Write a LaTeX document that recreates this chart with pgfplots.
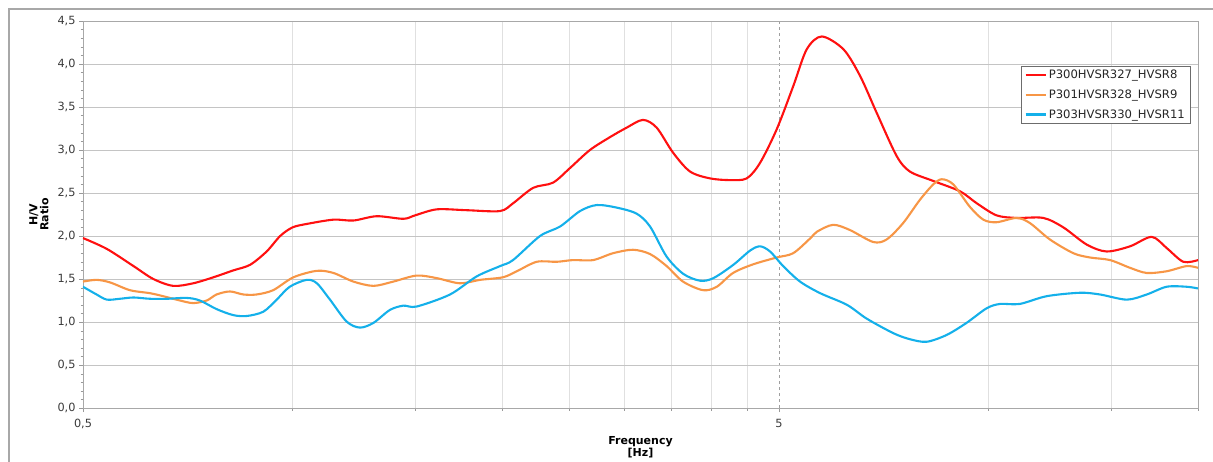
\documentclass[border=0pt]{standalone}
\usepackage{fontspec}
\setmainfont{DejaVu Sans}
\usepackage{pgfplots}
\pgfplotsset{compat=1.18}
\usetikzlibrary{calc}

\definecolor{hvred}{HTML}{FF1010}
\definecolor{hvorange}{HTML}{F79646}
\definecolor{hvblue}{HTML}{14B0EA}
\definecolor{gridgray}{HTML}{C4C4C4}
\definecolor{minorgray}{HTML}{E0E0E0}
\definecolor{ticktext}{HTML}{3A3A3A}
\definecolor{framegray}{HTML}{A8A8A8}

% H/V spectral ratios: frequency [Hz], ratio
\pgfplotstableread{
f      v
0.500  1.976
0.541  1.85
0.591  1.65
0.631  1.50
0.674  1.42
0.720  1.45
0.770  1.52
0.822  1.60
0.869  1.665
0.918  1.82
0.960  2.00
1.000  2.10
1.048  2.14
1.145  2.19
1.223  2.18
1.321  2.23
1.443  2.20
1.500  2.24
1.612  2.31
1.779  2.30
1.987  2.29
2.074  2.38
2.217  2.56
2.367  2.62
2.504  2.79
2.675  3.00
2.859  3.15
3.021  3.26
3.188  3.35
3.336  3.26
3.521  2.97
3.725  2.75
3.980  2.67
4.253  2.65
4.494  2.67
4.696  2.85
4.962  3.24
5.240  3.74
5.480  4.17
5.760  4.32
6.190  4.17
6.540  3.86
6.910  3.43
7.380  2.93
7.710  2.75
8.330  2.64
9.100  2.52
9.620  2.38
10.27  2.24
10.98  2.21
11.99  2.21
12.81  2.10
13.84  1.90
14.78  1.82
15.97  1.88
17.16  1.99
18.03  1.86
19.05  1.70
20.00  1.72
}\hvsrA

\pgfplotstableread{
f      v
0.500  1.47
0.523  1.49
0.547  1.46
0.584  1.37
0.624  1.335
0.652  1.30
0.689  1.25
0.720  1.22
0.753  1.25
0.778  1.32
0.813  1.355
0.850  1.32
0.888  1.32
0.938  1.37
1.003  1.52
1.084  1.595
1.145  1.57
1.223  1.47
1.307  1.42
1.396  1.47
1.508  1.54
1.612  1.51
1.740  1.45
1.860  1.49
2.006  1.52
2.100  1.59
2.243  1.70
2.397  1.70
2.529  1.72
2.703  1.72
2.888  1.80
3.085  1.84
3.264  1.79
3.448  1.65
3.640  1.47
3.889  1.37
4.070  1.41
4.295  1.57
4.588  1.67
4.962  1.75
5.240  1.80
5.540  1.97
5.670  2.05
5.980  2.13
6.320  2.07
6.830  1.93
7.140  1.96
7.540  2.15
7.970  2.42
8.330  2.60
8.570  2.66
8.900  2.60
9.400  2.34
9.830  2.19
10.27  2.16
10.98  2.21
11.47  2.15
12.25  1.96
13.24  1.80
13.99  1.75
14.95  1.72
15.97  1.63
16.88  1.57
18.03  1.59
19.26  1.65
20.00  1.63
}\hvsrB

\pgfplotstableread{
f      v
0.500  1.41
0.523  1.32
0.541  1.26
0.565  1.27
0.591  1.285
0.624  1.27
0.660  1.27
0.705  1.28
0.736  1.25
0.778  1.15
0.822  1.08
0.860  1.07
0.908  1.12
0.949  1.26
0.991  1.41
1.048  1.49
1.084  1.45
1.132  1.26
1.196  1.005
1.250  0.935
1.307  0.99
1.380  1.14
1.443  1.19
1.508  1.18
1.684  1.32
1.839  1.53
1.987  1.65
2.074  1.72
2.268  2.00
2.423  2.11
2.589  2.29
2.736  2.36
2.923  2.33
3.122  2.26
3.264  2.11
3.448  1.76
3.643  1.56
3.851  1.48
4.024  1.51
4.299  1.665
4.543  1.83
4.696  1.88
4.854  1.82
5.070  1.65
5.360  1.47
5.730  1.335
6.260  1.20
6.680  1.04
7.300  0.87
7.710  0.80
8.150  0.77
8.710  0.85
9.300  0.99
9.940  1.16
10.39  1.21
11.09  1.21
12.12  1.30
13.53  1.34
14.46  1.32
15.80  1.26
16.88  1.32
18.03  1.41
19.26  1.41
20.00  1.39
}\hvsrC

\begin{document}
\begin{tikzpicture}
\begin{axis}[
  name=ax,
  scale only axis,
  width=1115pt, height=387pt,
  xmode=log,
  xmin=0.5, xmax=20,
  ymin=0, ymax=4.5,
  xtick={0.5,5},
  xticklabels={0{,}5,5},
  minor xtick={1,1.5,2,2.5,3,3.5,4,4.5,10,15,20},
  ytick={0,0.5,1,1.5,2,2.5,3,3.5,4,4.5},
  minor y tick num=4,
  xmajorgrids, xminorgrids, ymajorgrids,
  major x grid style={draw=gray!75, dashed},
  minor x grid style={draw=minorgray},
  major y grid style={draw=gridgray},
  axis line style={draw=framegray},
  tick style={draw=gray!80},
  tick align=outside,
  xtick pos=bottom, ytick pos=left,
  major tick length=4pt, minor tick length=2.5pt,
  /pgf/number format/assume math mode=true,
  ticklabel style={font=\fontsize{11.3}{13}\selectfont, text=ticktext},
  xticklabel style={yshift=-4pt},
  yticklabel style={/pgf/number format/.cd, fixed, fixed zerofill, precision=1, use comma},
  xlabel={\textbf{Frequency}\\\textbf{[Hz]}},
  xlabel style={align=center, font=\fontsize{11}{12.3}\selectfont, yshift=-0.5pt},
  ylabel={\textbf{H/V}\\\textbf{Ratio}},
  ylabel style={align=center, font=\fontsize{11}{11}\selectfont, yshift=2pt},
  legend style={at={(0.9928,0.8837)}, anchor=north east,
    draw=gray!85!black, fill=white,
    font=\fontsize{11.6}{13}\selectfont, text=black!85,
    inner xsep=3pt, inner ysep=2pt, row sep=5.5pt},
  legend cell align=left,
  legend image code/.code={\draw[#1] (0pt,0pt) -- (20pt,0pt);},
]
\addplot[hvred, line width=2.1pt, smooth, tension=0.5] table[x=f, y=v] {\hvsrA};
\addlegendentry{P300HVSR327\_HVSR8}
\addplot[hvorange, line width=2.1pt, smooth, tension=0.5] table[x=f, y=v] {\hvsrB};
\addlegendentry{P301HVSR328\_HVSR9}
\addplot[hvblue, line width=2.1pt, smooth, tension=0.5] table[x=f, y=v] {\hvsrC};
\addlegendentry{P303HVSR330\_HVSR11}
\end{axis}
% chart frame
\draw[framegray, line width=1.5pt]
  ($(ax.south west)+(-74pt,-60pt)$) |- ($(ax.north east)+(25pt,12pt)$);
\pgfresetboundingbox
\path[use as bounding box]
  ($(ax.south west)+(-83pt,-53pt)$) rectangle ($(ax.north east)+(15pt,21pt)$);
\end{tikzpicture}
\end{document}
